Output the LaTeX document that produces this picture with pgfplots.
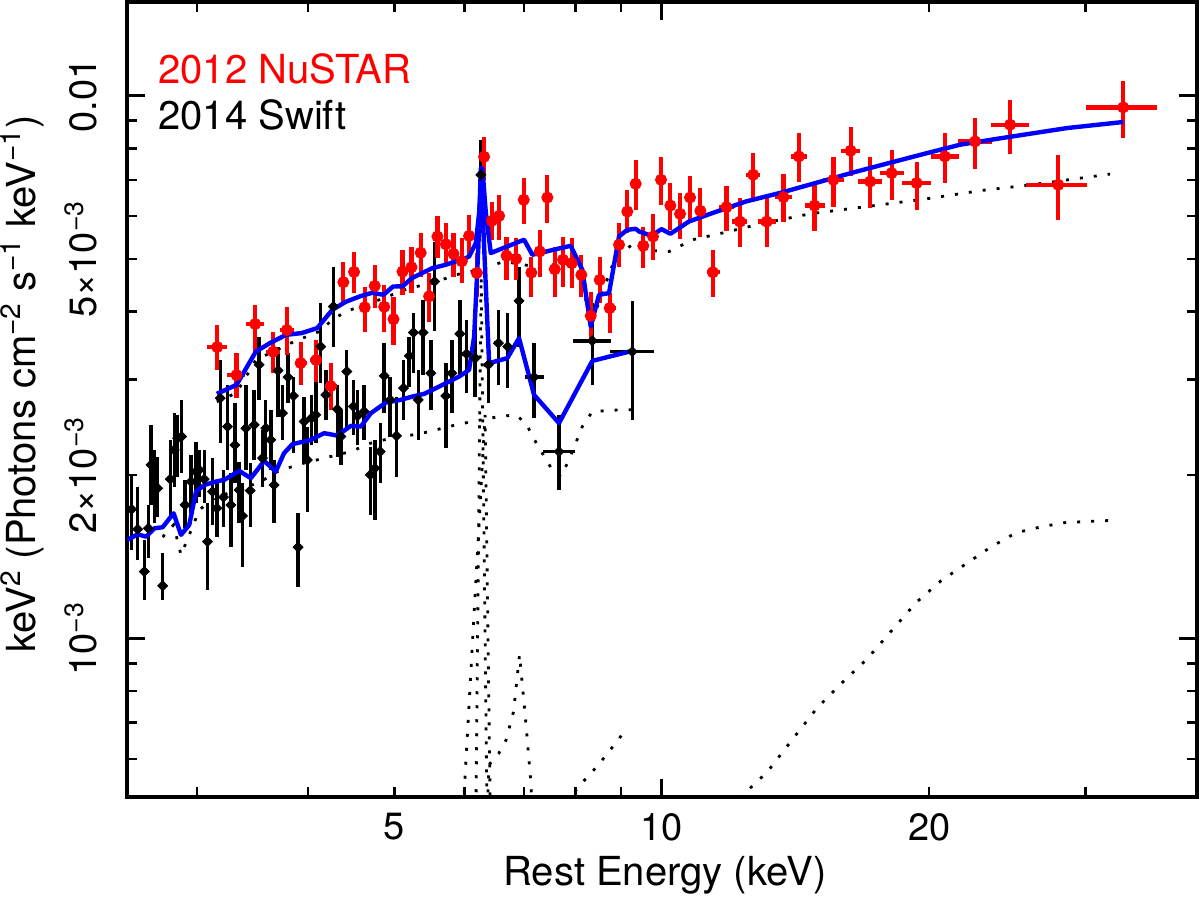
\documentclass[border=0pt]{standalone}
\usepackage{fontspec}
\setmainfont{TeX Gyre Heros}
\usepackage{pgfplots}
\usepackage{pgfplotstable}
\pgfplotsset{compat=1.18}

% 2012 NuSTAR: energy (keV), energy range, flux, flux range
\pgfplotstableread{
x xl xh y yl yh
3.161 3.080 3.244 0.003443 0.003122 0.003780
3.323 3.246 3.401 0.003057 0.002772 0.003356
3.488 3.407 3.570 0.003797 0.003356 0.004116
3.654 3.588 3.721 0.003375 0.003083 0.003670
3.786 3.718 3.855 0.003701 0.003328 0.004084
3.925 3.865 3.987 0.003217 0.002930 0.003517
4.084 4.021 4.148 0.003258 0.002967 0.003547
4.242 4.177 4.309 0.002917 0.002635 0.003217
4.383 4.327 4.440 0.004533 0.004154 0.004944
4.506 4.448 4.565 0.004735 0.004334 0.005158
4.632 4.573 4.693 0.004075 0.003670 0.004443
4.754 4.693 4.816 0.004462 0.004067 0.004878
4.872 4.810 4.935 0.004084 0.003670 0.004481
4.991 4.927 5.056 0.003876 0.003472 0.004261
5.109 5.044 5.175 0.004741 0.004297 0.005202
5.229 5.171 5.286 0.004831 0.004334 0.005269
5.355 5.293 5.418 0.005136 0.004636 0.005589
5.474 5.411 5.538 0.004270 0.003832 0.004715
5.593 5.531 5.656 0.005502 0.005028 0.006007
5.716 5.655 5.780 0.005325 0.004878 0.005831
5.830 5.765 5.895 0.005114 0.004636 0.005589
5.958 5.893 6.025 0.004954 0.004519 0.005474
6.071 6.009 6.135 0.005518 0.005028 0.006033
6.194 6.127 6.263 0.004715 0.004261 0.005136
6.312 6.247 6.378 0.007719 0.007000 0.008403
6.439 6.369 6.511 0.005881 0.005428 0.006375
6.562 6.494 6.630 0.006007 0.005428 0.006568
6.690 6.622 6.759 0.005071 0.004577 0.005495
6.857 6.786 6.928 0.005007 0.004577 0.005474
6.995 6.923 7.068 0.006430 0.005806 0.007060
7.134 7.061 7.208 0.004721 0.004261 0.005050
7.291 7.216 7.366 0.005165 0.004636 0.005660
7.436 7.359 7.513 0.006493 0.005831 0.007150
7.580 7.502 7.659 0.004790 0.004261 0.005269
7.744 7.665 7.825 0.004986 0.004443 0.005495
7.921 7.839 8.003 0.004913 0.004427 0.005474
8.120 8.037 8.204 0.004675 0.004261 0.005093
8.320 8.213 8.429 0.003931 0.003547 0.004352
8.516 8.429 8.605 0.004577 0.004154 0.005050
8.740 8.634 8.877 0.004062 0.003657 0.004334
8.953 8.862 9.046 0.005314 0.004837 0.005831
9.147 9.053 9.242 0.006118 0.005589 0.006709
9.348 9.252 9.444 0.006882 0.006163 0.007622
9.534 9.435 9.634 0.005291 0.004816 0.005733
9.777 9.676 9.879 0.005502 0.004986 0.006058
9.982 9.879 10.085 0.007000 0.006295 0.007719
10.227 10.122 10.334 0.006276 0.005660 0.006912
10.487 10.377 10.594 0.006058 0.005451 0.006624
10.763 10.652 10.872 0.006493 0.005906 0.007120
11.054 10.940 11.169 0.006136 0.005495 0.006766
11.417 11.245 11.641 0.004729 0.004261 0.005202
11.826 11.611 12.046 0.006234 0.005636 0.006824
12.249 12.011 12.477 0.005863 0.005269 0.006485
12.675 12.441 12.911 0.007150 0.006430 0.007852
13.130 12.831 13.461 0.005863 0.005269 0.006485
13.711 13.398 14.034 0.006504 0.005856 0.007181
14.268 13.968 14.567 0.007729 0.006941 0.008547
14.860 14.491 15.250 0.006276 0.005636 0.006912
15.605 15.183 16.048 0.007000 0.006242 0.007719
16.316 15.928 16.727 0.007918 0.007120 0.008767
17.164 16.649 17.688 0.006950 0.006215 0.007719
18.147 17.596 18.725 0.007202 0.006430 0.007952
19.361 18.628 20.081 0.006903 0.006163 0.007557
20.828 20.081 21.630 0.007729 0.006912 0.008547
22.526 21.535 23.552 0.008237 0.007335 0.009108
24.663 23.455 25.880 0.008842 0.007818 0.009832
27.942 25.713 30.073 0.006853 0.005906 0.007785
33.063 29.996 36.105 0.009516 0.008368 0.010657
}\nustar

% 2014 Swift
\pgfplotstableread{
x xl xh y yl yh
2.532 2.512 2.551 0.001730 0.001456 0.002002
2.572 2.552 2.592 0.001590 0.001395 0.001905
2.617 2.597 2.637 0.001328 0.001178 0.001519
2.644 2.624 2.665 0.001596 0.001407 0.001762
2.663 2.642 2.683 0.002089 0.001762 0.002475
2.686 2.665 2.706 0.001892 0.001633 0.002226
2.709 2.688 2.730 0.001892 0.001677 0.002163
2.744 2.723 2.765 0.001250 0.001178 0.001437
2.799 2.778 2.821 0.001966 0.001677 0.002322
2.828 2.806 2.850 0.002226 0.001902 0.002604
2.853 2.831 2.875 0.002339 0.001985 0.002582
2.882 2.860 2.904 0.002355 0.002019 0.002752
2.908 2.885 2.931 0.001762 0.001598 0.001960
2.953 2.931 2.976 0.001946 0.001704 0.002179
2.992 2.968 3.015 0.002030 0.001777 0.002305
3.017 2.994 3.041 0.002045 0.001823 0.002226
3.057 3.033 3.080 0.001966 0.001777 0.002226
3.083 3.059 3.107 0.001508 0.001229 0.001777
3.123 3.099 3.147 0.001865 0.001619 0.002151
3.158 3.134 3.183 0.001738 0.001538 0.001935
3.186 3.161 3.210 0.002772 0.002293 0.003261
3.213 3.188 3.238 0.001821 0.001605 0.002045
3.246 3.221 3.271 0.002457 0.002045 0.002933
3.275 3.249 3.300 0.001762 0.001475 0.002019
3.309 3.284 3.335 0.002273 0.001935 0.002717
3.346 3.320 3.372 0.001878 0.001633 0.002115
3.375 3.348 3.401 0.001682 0.001355 0.001935
3.405 3.378 3.431 0.002440 0.002045 0.002933
3.443 3.416 3.469 0.001873 0.001605 0.002106
3.479 3.452 3.505 0.002475 0.002133 0.002871
3.524 3.497 3.551 0.003193 0.002752 0.003596
3.554 3.527 3.581 0.002149 0.001902 0.002423
3.585 3.558 3.613 0.002440 0.002160 0.002752
3.632 3.604 3.660 0.002322 0.002045 0.002638
3.663 3.635 3.692 0.001918 0.001633 0.002133
3.701 3.673 3.730 0.003116 0.002560 0.003446
3.743 3.714 3.772 0.002601 0.002322 0.002933
3.798 3.769 3.828 0.003030 0.002717 0.003359
3.851 3.821 3.881 0.002799 0.002197 0.003034
3.898 3.868 3.928 0.001473 0.001244 0.001704
3.959 3.928 3.990 0.002510 0.002106 0.002787
3.993 3.962 4.024 0.002133 0.001711 0.002454
4.035 4.004 4.066 0.002546 0.002273 0.002811
4.081 4.049 4.113 0.002582 0.002293 0.003034
4.134 4.102 4.166 0.003450 0.002958 0.004154
4.188 4.155 4.220 0.002811 0.002528 0.003126
4.271 4.238 4.304 0.004089 0.003446 0.004840
4.316 4.283 4.350 0.002645 0.002160 0.002933
4.354 4.321 4.388 0.002355 0.002089 0.002638
4.422 4.388 4.457 0.003103 0.002423 0.003402
4.498 4.463 4.533 0.002675 0.002372 0.002996
4.545 4.510 4.580 0.002571 0.002273 0.002871
4.626 4.591 4.662 0.002619 0.002322 0.002933
4.699 4.662 4.735 0.002002 0.001689 0.002254
4.756 4.720 4.793 0.002059 0.001654 0.002322
4.822 4.785 4.860 0.002210 0.001935 0.002496
4.872 4.835 4.910 0.003047 0.002604 0.003505
4.948 4.910 4.986 0.002752 0.002352 0.003034
5.030 4.991 5.069 0.002362 0.001985 0.002787
5.122 5.082 5.162 0.002892 0.002528 0.003261
5.198 5.158 5.238 0.003317 0.002908 0.003596
5.256 5.215 5.296 0.003662 0.003083 0.003981
5.321 5.280 5.362 0.002752 0.002322 0.003126
5.390 5.348 5.432 0.003662 0.003060 0.004207
5.498 5.446 5.553 0.003082 0.002638 0.003547
5.553 5.503 5.605 0.004547 0.003681 0.005370
5.716 5.657 5.776 0.002799 0.002245 0.003217
5.806 5.746 5.866 0.003082 0.002604 0.003547
5.927 5.866 5.989 0.003642 0.003060 0.004207
6.029 5.967 6.092 0.003345 0.002835 0.003865
6.167 6.103 6.231 0.003285 0.002787 0.003914
6.258 6.194 6.323 0.007150 0.006035 0.008297
6.382 6.316 6.449 0.003193 0.002717 0.003505
6.550 6.482 6.618 0.003501 0.002933 0.004032
6.711 6.642 6.781 0.003450 0.002896 0.003981
6.910 6.841 6.982 0.004189 0.003446 0.004840
7.184 7.010 7.363 0.003030 0.002549 0.003505
7.665 7.353 7.989 0.002210 0.001878 0.002582
8.355 7.954 8.776 0.003535 0.002933 0.004159
9.266 8.754 9.810 0.003378 0.002528 0.004177
}\swift

\pgfplotsset{
  dotline/.style={black, line width=1.4pt, dash pattern=on 1.5pt off 5.5pt, mark=none},
  modline/.style={blue, line width=2.2pt, line join=round, mark=none},
}

\begin{document}
\begin{tikzpicture}
\begin{axis}[
  at={(0,0)}, anchor=south west,
  scale only axis, width=535pt, height=397.5pt,
  xmode=log, ymode=log,
  xmin=2.5, xmax=40, ymin=5.11e-4, ymax=0.0149,
  axis line style={line width=1.8pt},
  every tick/.style={black, line width=1.3pt},
  tick align=inside,
  major tick length=5pt, minor tick length=5pt,
  xtick={5,10,20}, xticklabels={5,10,20},
  minor xtick={3,4,6,7,8,9,30},
  extra x ticks={10}, extra x tick labels={},
  extra x tick style={major tick length=9pt},
  ytick={0.001,0.002,0.005,0.01},
  yticklabels={10\textsuperscript{−3},2×10\textsuperscript{−3},5×10\textsuperscript{−3},0.01},
  minor ytick={6e-4,7e-4,8e-4,9e-4,3e-3,4e-3,6e-3,7e-3,8e-3,9e-3},
  extra y ticks={0.001,0.01}, extra y tick labels={},
  extra y tick style={major tick length=9pt},
  xticklabel style={font=\fontsize{19}{19}\selectfont, inner sep=0pt, anchor=north, yshift=-8.15pt},
  yticklabel style={font=\fontsize{19}{19}\selectfont, inner sep=0pt, xshift=-14.85pt, rotate=90, anchor=south},
  xlabel={Rest Energy (keV)},
  ylabel={keV\textsuperscript{2} (Photons cm\textsuperscript{−2} s\textsuperscript{−1} keV\textsuperscript{−1})},
  every axis x label/.style={at={(axis description cs:0.503,0)}, anchor=base, yshift=-44.15pt, inner sep=0pt, font=\fontsize{20}{20}\selectfont},
  every axis y label/.style={at={(axis description cs:-0.0850,0.519)}, rotate=90, anchor=base, inner sep=0pt, font=\fontsize{20}{20}\selectfont},
]

% model components (dotted)
\addplot[dotline] coordinates {(3.158,0.002729) (3.323,0.002835) (3.494,0.003261) (3.858,0.003524) (4.116,0.003677) (4.260,0.003865) (4.411,0.004003) (4.810,0.004207) (5.198,0.004421) (5.521,0.004516) (5.866,0.004678) (6.231,0.004778) (6.647,0.004950) (7.184,0.004846) (7.799,0.004916) (8.072,0.004712) (8.213,0.004207) (8.355,0.003811) (8.464,0.004089) (8.876,0.005058) (9.266,0.005314) (9.429,0.005202) (10.201,0.005165) (10.833,0.005428) (11.771,0.005598) (13.032,0.005826) (14.696,0.006060) (17.040,0.006251) (19.756,0.006450) (22.909,0.006690) (26.075,0.006853) (31.951,0.007172)};
\addplot[dotline] coordinates {(2.744,0.001538) (2.823,0.001619) (2.878,0.001425) (2.965,0.001605) (3.017,0.001725) (3.150,0.001823) (3.346,0.001878) (3.539,0.001946) (3.695,0.002030) (3.891,0.002089) (4.169,0.002149) (4.468,0.002210) (4.707,0.002290) (4.957,0.002339) (5.311,0.002379) (5.474,0.002405) (5.866,0.002475) (6.123,0.002510) (6.562,0.002564) (6.852,0.002582) (7.031,0.002493) (7.246,0.002273) (7.533,0.002045) (7.699,0.001987) (7.866,0.002133) (8.141,0.002457) (8.355,0.002619) (8.992,0.002638) (9.266,0.002638)};
\addplot[dotline] coordinates {(11.417,0.0004437) (12.323,0.0005138) (13.144,0.0005674) (14.015,0.0006500) (14.949,0.0007439) (15.944,0.0008278) (17.005,0.0009147) (18.133,0.0010324) (19.341,0.0011651) (20.629,0.0012780) (22.002,0.0013725) (23.461,0.0014739) (25.023,0.0015648) (26.690,0.0016052) (28.467,0.0016355) (32.377,0.0016515)};
\addplot[dotline] coordinates {(7.665,0.0004728) (8.055,0.0005324) (8.481,0.0005840) (8.930,0.0006500) (9.104,0.0006782)};
\addplot[dotline] coordinates {(6.135,0.000141) (6.263,0.004778) (6.411,0.000141)};
\addplot[dotline] coordinates {(5.736,0.000141) (6.328,0.002582) (6.477,0.000141)};
\addplot[dotline] coordinates {(6.231,0.000141) (6.389,0.0005845) (6.555,0.0006138) (6.682,0.00065) (6.813,0.0007336) (6.919,0.0009343) (7.037,0.0006927) (7.129,0.000537) (7.278,0.000141)};

% Swift data
\addplot[only marks, mark=square*, mark size=1.75pt, mark options={rotate=45, black}, black,
  error bars/.cd, x dir=both, x explicit, y dir=both, y explicit,
  error mark=none, error bar style={line width=1.7pt, black}]
  table[x=x, y=y,
    x error plus expr=\thisrow{xh}-\thisrow{x},
    x error minus expr=\thisrow{x}-\thisrow{xl},
    y error plus expr=\thisrow{yh}-\thisrow{y},
    y error minus expr=\thisrow{y}-\thisrow{yl}] {\swift};

% NuSTAR data
\addplot[only marks, mark=*, mark size=2.8pt, mark options={red}, red,
  error bars/.cd, x dir=both, x explicit, y dir=both, y explicit,
  error mark=none, error bar style={line width=2.1pt, red}]
  table[x=x, y=y,
    x error plus expr=\thisrow{xh}-\thisrow{x},
    x error minus expr=\thisrow{x}-\thisrow{xl},
    y error plus expr=\thisrow{yh}-\thisrow{y},
    y error minus expr=\thisrow{y}-\thisrow{yl}] {\nustar};

% models (blue)
\addplot[modline] coordinates {(3.158,0.002823) (3.323,0.002933) (3.494,0.003378) (3.632,0.003509) (3.779,0.003626) (3.934,0.003653) (4.095,0.003731) (4.169,0.003865) (4.260,0.004032) (4.411,0.004172) (4.585,0.004274) (4.723,0.004334) (4.863,0.004297) (4.984,0.004451) (5.109,0.004455) (5.232,0.004609) (5.369,0.004708) (5.521,0.004813) (5.716,0.004881) (5.866,0.004950) (6.020,0.005022) (6.071,0.005056) (6.178,0.005352) (6.231,0.006086) (6.284,0.00735) (6.340,0.006086) (6.422,0.005130) (7.001,0.005428) (7.153,0.005093) (7.900,0.005291) (8.141,0.004778) (8.320,0.003756) (8.501,0.004297) (8.724,0.004328) (8.953,0.005504) (9.147,0.005662) (9.348,0.005686) (9.429,0.005622) (9.739,0.005520) (9.994,0.005679) (10.227,0.005567) (10.733,0.005865) (11.344,0.006060) (12.441,0.006385) (13.650,0.006634) (14.972,0.006921) (16.422,0.007221) (18.012,0.007514) (19.756,0.007818) (21.669,0.008123) (23.767,0.008322) (28.600,0.008719) (33.063,0.008944)};
\addplot[modline] coordinates {(2.505,0.001519) (2.572,0.001556) (2.629,0.001540) (2.686,0.001596) (2.744,0.001603) (2.823,0.001701) (2.878,0.001552) (2.940,0.001619) (2.992,0.001865) (3.057,0.001918) (3.150,0.001946) (3.219,0.001960) (3.346,0.002036) (3.449,0.001974) (3.570,0.002124) (3.679,0.002030) (3.759,0.002195) (3.841,0.002280) (4.028,0.002322) (4.169,0.002389) (4.316,0.002365) (4.468,0.002464) (4.585,0.002457) (4.707,0.002601) (4.894,0.002721) (5.087,0.002752) (5.243,0.002791) (5.404,0.002823) (5.618,0.002912) (5.917,0.003038) (6.071,0.003126) (6.151,0.003600) (6.219,0.005275) (6.258,0.00735) (6.394,0.003216) (6.704,0.003285) (6.910,0.003576) (7.184,0.002811) (7.665,0.002493) (8.355,0.003247) (9.266,0.003388)};

\node[anchor=base west, inner sep=0pt, text=red, font=\fontsize{20}{20}\selectfont] at (rel axis cs:0.02925,0.8974) {2012 NuSTAR};
\node[anchor=base west, inner sep=0pt, text=black, font=\fontsize{20}{20}\selectfont] at (rel axis cs:0.02925,0.8392) {2014 Swift};
\end{axis}
\pgfresetboundingbox
\path[use as bounding box] (-63.35pt,-49.65pt) rectangle (536.65pt,398.35pt);
\end{tikzpicture}
\end{document}
